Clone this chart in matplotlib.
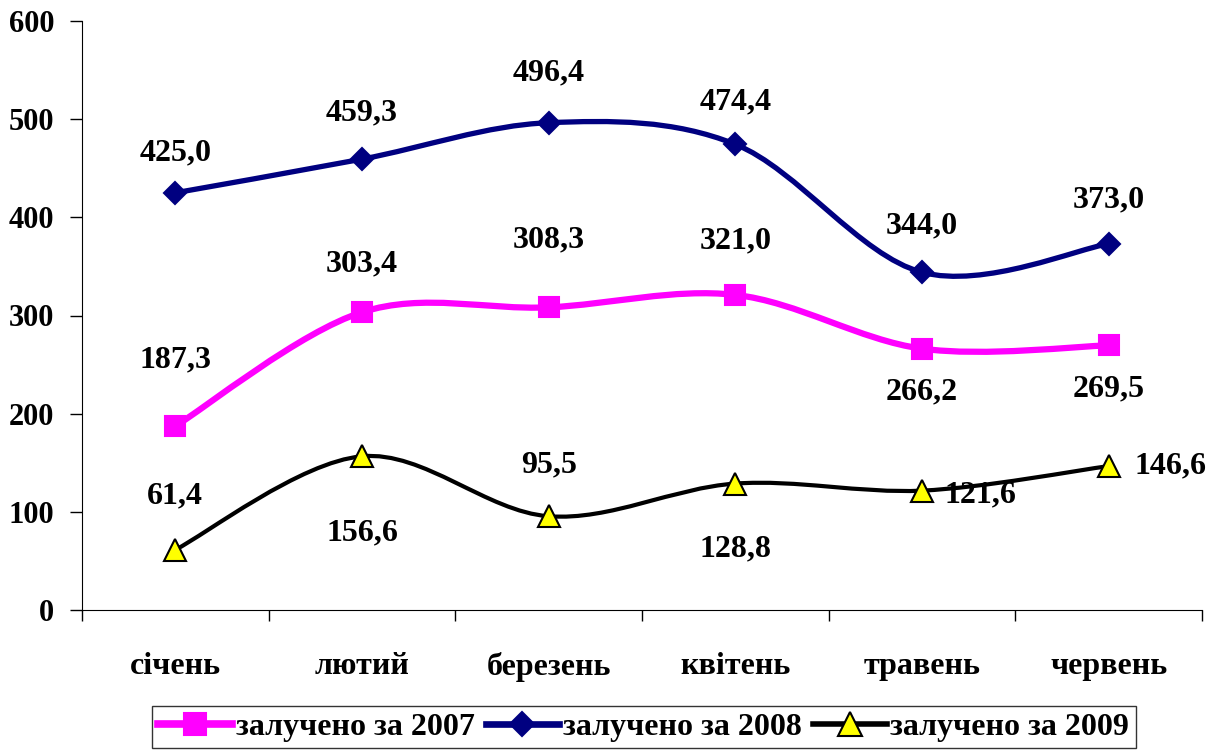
import numpy as np
import matplotlib
matplotlib.use('Agg')
import matplotlib.pyplot as plt
from matplotlib.path import Path
from matplotlib.patches import PathPatch
from matplotlib.lines import Line2D

plt.rcParams['font.family'] = ['Liberation Serif', 'DejaVu Serif']
plt.rcParams['font.weight'] = 'bold'

months = ['січень', 'лютий', 'березень', 'квітень', 'травень', 'червень']
v2007 = [187.3, 303.4, 308.3, 321.0, 266.2, 269.5]
v2008 = [425.0, 459.3, 496.4, 474.4, 344.0, 373.0]
v2009 = [61.4, 156.6, 95.5, 128.8, 121.6, 146.6]
names = ['залучено за 2007', 'залучено за 2008', 'залучено за 2009']

# label offsets in pixels (dx, dy) relative to the point
off2007 = [(0, 66), (0, 48), (0, 67), (0, 54), (0, -43), (0, -43)]
off2008 = [(0, 40), (0, 46), (0, 50), (0, 42), (0, 46), (0, 44)]
off2009 = [(0, 54), (0, -77), (0, 51), (0, -65), (58, -4), (62, 0)]


def smooth_path(xs, ys):
    # Excel-like Bezier smoothing (Catmull-Rom control points)
    p = np.column_stack([xs, ys]).astype(float)
    n = len(p)
    verts = [p[0]]
    codes = [Path.MOVETO]
    for i in range(n - 1):
        p0 = p[i - 1] if i > 0 else p[i]
        p1 = p[i]
        p2 = p[i + 1]
        p3 = p[i + 2] if i + 2 < n else p[i + 1]
        c1 = p1 + (p2 - p0) / 6.0
        c2 = p2 - (p3 - p1) / 6.0
        verts += [c1, c2, p2]
        codes += [Path.CURVE4] * 3
    return Path(verts, codes)


fig = plt.figure(figsize=(12.15, 7.53), dpi=100)
ax = fig.add_axes([82 / 1215, 1 - 610 / 753, (1202 - 82) / 1215, (610 - 21) / 753])

x = np.arange(len(months))
series = [
    (v2007, '#FF00FF', 4.5, 's', 15, '#FF00FF', '#FF00FF', off2007),
    (v2008, '#000080', 3.8, 'D', 11, '#000080', '#000080', off2008),
    (v2009, '#000000', 3.0, '^', 16, '#FFFF00', '#000000', off2009),
]
handles = []
for (vals, col, lw, mk, ms, mfc, mec, offs), name in zip(series, names):
    ax.add_patch(PathPatch(smooth_path(x, vals), facecolor='none', edgecolor=col,
                           lw=lw, capstyle='round', joinstyle='round', zorder=2))
    ax.plot(x, vals, linestyle='none', marker=mk, ms=ms, mfc=mfc, mec=mec,
            mew=1.5, zorder=3)
    for xi, v, (dx, dy) in zip(x, vals, offs):
        ax.annotate(f'{v:.1f}'.replace('.', ','), (xi, v), xytext=(dx, dy),
                    textcoords='offset pixels', ha='center', va='center',
                    fontsize=23, fontweight='bold', zorder=4)
    handles.append(Line2D([], [], color=col, lw=lw + 1, marker=mk, ms=ms + 1, mfc=mfc,
                          mec=mec, mew=1.5, label=name))

ax.set_xlim(-0.5, len(months) - 0.5)
ax.set_ylim(0, 600)
ax.set_yticks(range(0, 601, 100))
ax.tick_params(axis='y', labelsize=22, length=9, width=1, pad=11, direction='out')
ax.set_xticks(np.arange(-0.5, len(months)), minor=False)
ax.set_xticklabels([])
ax.set_xticks(x, minor=True)
ax.set_xticklabels(months, minor=True, fontsize=23, fontweight='bold')
ax.tick_params(axis='x', which='major', length=8, width=1, direction='out')
ax.tick_params(axis='x', which='minor', length=0, pad=30)
for lbl in ax.get_yticklabels():
    lbl.set_fontweight('bold')
ax.spines['top'].set_visible(False)
ax.spines['right'].set_visible(False)

leg = fig.legend(handles=handles, loc='upper left', bbox_to_anchor=(152 / 1215, 1 - 706 / 753),
                 ncol=3, frameon=True, fancybox=False, edgecolor='black',
                 prop={'size': 23, 'weight': 'bold'}, handlelength=2.3,
                 handletextpad=0.12, columnspacing=0.35, borderpad=0.2,
                 borderaxespad=0)
leg.get_frame().set_linewidth(1)

fig.savefig('out.png', dpi=100)
